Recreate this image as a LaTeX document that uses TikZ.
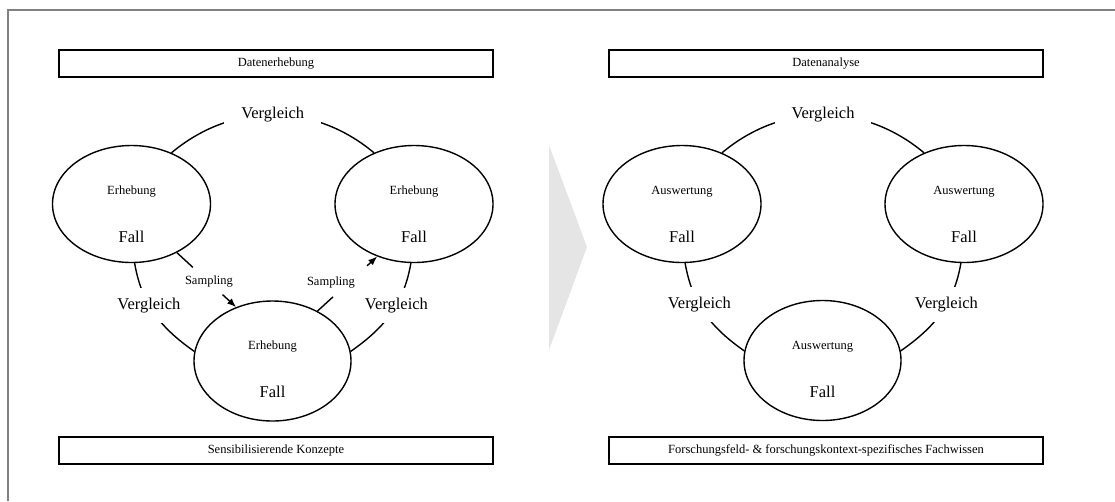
\documentclass[tikz,border=0pt]{standalone}
\usepackage{fontspec}
\setmainfont{Liberation Serif}
\usetikzlibrary{shapes.geometric,arrows.meta,calc}
\begin{document}
\begin{tikzpicture}[x=1pt,y=1pt,
  bar/.style={draw,line width=1.5pt,minimum width=434pt,minimum height=27pt,inner sep=0pt,font=\fontsize{12.5}{14}\selectfont},
  fallell/.style={draw,ellipse,line width=1.4pt,minimum width=158pt,minimum height=117pt,inner sep=0pt},
  small/.style={font=\fontsize{12.5}{14}\selectfont,inner sep=0pt},
  big/.style={font=\fontsize{16.5}{18}\selectfont,inner sep=0pt},
  vlab/.style={font=\fontsize{16.5}{18}\selectfont,fill=white,inner xsep=17pt,inner ysep=10pt},
  conn/.style={line width=1.4pt},
  arr/.style={line width=1.4pt,-{Latex[length=9pt,width=7pt]}}]
\useasboundingbox (0,0) rectangle (1115,-501);
% frame and chevron
\draw[line width=1.6pt,color=black!50] (8,-501) -- (8,-10) -- (1115,-10);
\fill[black!10] (549,-145) -- (587,-247) -- (549,-350) -- cycle;
% ---------- left half ----------
\node[bar] (T1) at (276,-63.5) {Datenerhebung};
\node[bar] (S1) at (276,-450.5) {Sensibilisierende Konzepte};
\node[fallell] (L1) at (131.5,-204) {};
\node[fallell] (R1) at (414,-204) {};
\node[fallell,minimum width=157pt,minimum height=120pt] (B1) at (272.5,-361) {};
\node[small] (L1a) at (131.5,-192) {Erhebung};
\node[big]   (L1b) at (131.5,-237) {Fall};
\node[small] (R1a) at (414,-192) {Erhebung};
\node[big]   (R1b) at (414,-237) {Fall};
\node[small] (B1a) at (272.5,-347) {Erhebung};
\node[big]   (B1b) at (272.5,-392) {Fall};
\draw[conn] (L1.52) to[bend left=40] node[vlab]{Vergleich} (R1.128);
\draw[conn] (L1.-87) to[out=-80,in=145] node[vlab,pos=0.4]{Vergleich} (B1.173);
\draw[conn] (R1.-93) to[out=-100,in=35] node[vlab,pos=0.4]{Vergleich} (B1.7);
% sampling
\draw[conn] (L1.-47) -- ($(L1.-47)!0.27!(B1.124)$);
\draw[arr] ($(L1.-47)!0.77!(B1.124)$) -- (B1.124);
\node[small] (SA1) at (209,-282) {Sampling};
\draw[conn] (B1.48) -- ($(B1.48)!0.26!(R1.-125)$);
\draw[arr] ($(B1.48)!0.83!(R1.-125)$) -- (R1.-125);
\node[small] (SA2) at (331,-283) {Sampling};
% ---------- right half ----------
\node[bar] (T2) at (826,-63.5) {Datenanalyse};
\node[bar] (S2) at (826,-450.5) {Forschungsfeld- \& forschungskontext-spezifisches Fachwissen};
\node[fallell] (L2) at (682,-204) {};
\node[fallell] (R2) at (964,-204) {};
\node[fallell,minimum width=157pt,minimum height=120pt] (B2) at (822.5,-360.5) {};
\node[small] (L2a) at (682,-192) {Auswertung};
\node[big]   (L2b) at (682,-237) {Fall};
\node[small] (R2a) at (964,-192) {Auswertung};
\node[big]   (R2b) at (964,-237) {Fall};
\node[small] (B2a) at (822.5,-347) {Auswertung};
\node[big]   (B2b) at (822.5,-392) {Fall};
\draw[conn] (L2.52) to[bend left=40] node[vlab]{Vergleich} (R2.128);
\draw[conn] (L2.-87) to[out=-80,in=145] node[vlab,pos=0.4]{Vergleich} (B2.173);
\draw[conn] (R2.-93) to[out=-100,in=35] node[vlab,pos=0.4]{Vergleich} (B2.7);
\end{tikzpicture}
\end{document}
